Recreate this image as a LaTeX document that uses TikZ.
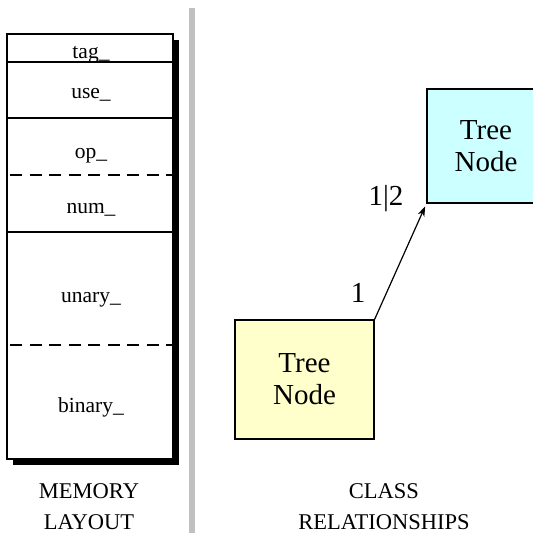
\documentclass[tikz,border=0pt]{standalone}
\usepackage{fontspec}
\setmainfont{Liberation Serif}
\usetikzlibrary{arrows.meta}
\definecolor{yelfill}{RGB}{255,255,204}
\definecolor{cyanfill}{RGB}{204,255,255}
\definecolor{divgray}{RGB}{192,192,192}
\tikzset{
  field/.style={anchor=base, font=\fontsize{21.5}{25}\selectfont, inner sep=0pt},
  caption/.style={anchor=base, font=\fontsize{22.5}{26}\selectfont, inner sep=0pt},
  classbox/.style={draw=black, line width=1.2pt, align=center, inner sep=0pt,
    font=\fontsize{29}{32}\selectfont},
  mult/.style={anchor=base, font=\fontsize{29}{32}\selectfont, inner sep=0pt},
  rowline/.style={line width=1.2pt},
  rowdash/.style={line width=1.2pt, dash pattern=on 12pt off 7.5pt},
}
\begin{document}
\begin{tikzpicture}[x=1pt,y=-1pt]
\useasboundingbox (0,0) rectangle (533,533);
% memory layout
\fill[black] (13,40) rectangle (179,465);
\draw[fill=white, line width=1.2pt] (7,34) rectangle (173,459);
\draw[rowline] (7,62) -- (173,62);
\draw[rowline] (7,118) -- (173,118);
\draw[rowdash] (10,175) -- (173,175);
\draw[rowline] (7,232) -- (173,232);
\draw[rowdash] (10,345) -- (173,345);
\node[field] (tag) at (91,58) {tag\_};
\node[field] (use) at (91,98) {use\_};
\node[field] (op) at (91,158) {op\_};
\node[field] (num) at (91,213) {num\_};
\node[field] (unary) at (91,302) {unary\_};
\node[field] (binary) at (91,412) {binary\_};
\node[caption] (mem1) at (89,498) {MEMORY};
\node[caption] (mem2) at (89,529) {LAYOUT};
% divider
\draw[divgray, line width=5.5pt] (192,8) -- (192,533);
% class relationships
\node[classbox, fill=yelfill, minimum width=139pt, minimum height=119pt] (low) at (304.5,379.5) {Tree\\Node};
\node[classbox, fill=cyanfill, minimum width=118pt, minimum height=114pt] (high) at (486,146) {Tree\\Node};
\draw[line width=1.2pt, -{Stealth[length=10pt,width=7pt,inset=3pt]}, shorten >=3pt] (low.north east) -- (high.south west);
\node[mult] (m1) at (358,302) {1};
\node[mult] (m2) at (386,205) {1|2};
\node[caption] (cls1) at (384,498) {CLASS};
\node[caption] (cls2) at (384,529) {RELATIONSHIPS};
\end{tikzpicture}
\end{document}
